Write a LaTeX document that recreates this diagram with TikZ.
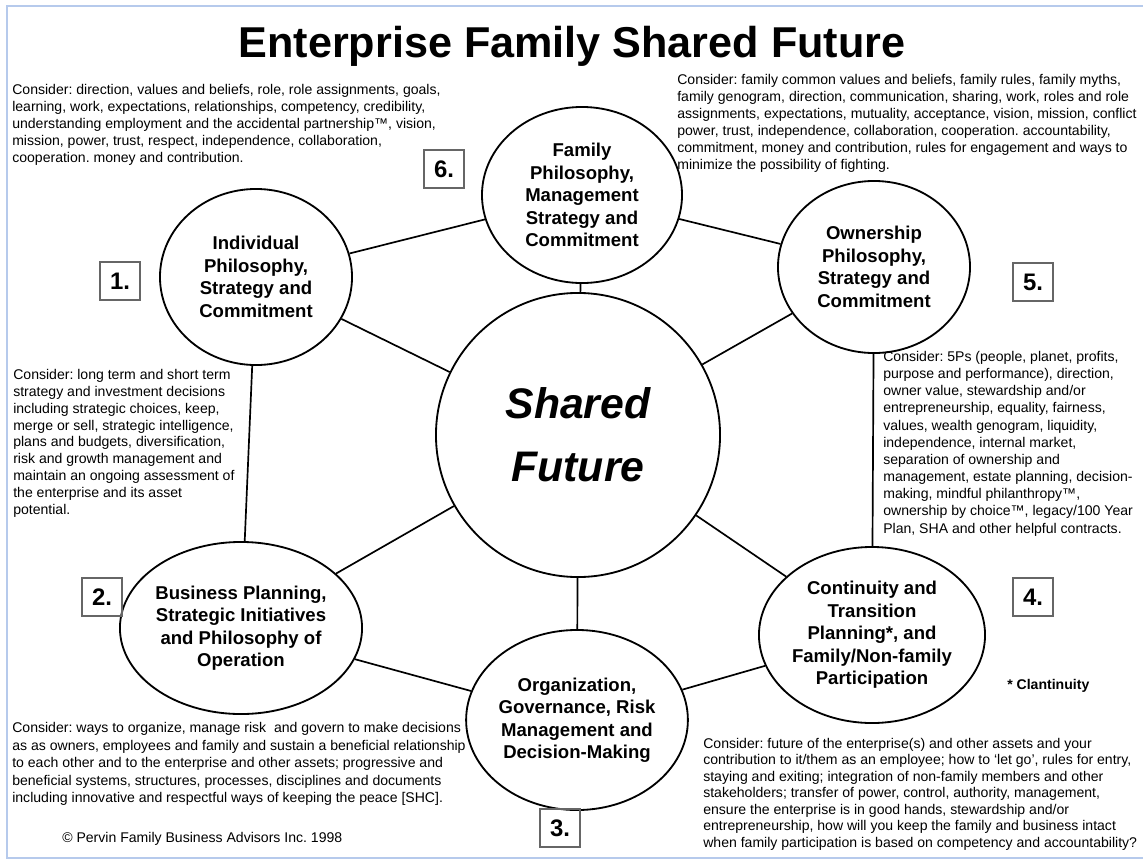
\documentclass[tikz,border=0pt]{standalone}
\usepackage{fontspec}
\setmainfont{Liberation Sans}
\usepackage{tikz}
\usepackage{xcolor}
\usetikzlibrary{shapes.geometric}
\definecolor{framebl}{RGB}{182,202,236}
\frenchspacing
\tikzset{stage/.style={ellipse,draw,line width=1.3pt,inner sep=0pt,align=center,
   font=\fontsize{13.2}{16}\selectfont\bfseries},
 hub/.style={circle,draw,line width=1.3pt,inner sep=0pt,minimum size=7.1cm,align=center,
   font=\fontsize{30.4}{44.7}\selectfont\bfseries\itshape},
 link/.style={draw,line width=1.2pt},
 numbox/.style={draw=gray!80!black,line width=1pt,minimum width=1cm,minimum height=0.95cm,
   inner sep=0pt,font=\fontsize{17}{20}\selectfont\bfseries},
 note/.style={anchor=north west,inner sep=0pt,align=left},
 }

\begin{document}
\begin{tikzpicture}[x=0.025cm,y=-0.025cm]
        \useasboundingbox (0,0) rectangle (1143,861);
        \draw[framebl,line width=2pt] (1143,6) -- (7,6) -- (7,858) -- (1143,858);

        \node[anchor=base,font=\fontsize{30.7}{34}\selectfont\bfseries] (title) at (572,57.5) {Enterprise Family Shared Future};

        \node[hub] (hub) at (578,435) {Shared\\Future};
        \node[stage,minimum width=5cm,minimum height=4.4cm] (c6) at (582,195) {Family\\Philosophy,\\Management\\Strategy and\\Commitment};
        \node[stage,minimum width=4.8cm,minimum height=4.4cm] (c1) at (256,277) {Individual\\Philosophy,\\Strategy and\\Commitment};
        \node[stage,minimum width=4.8cm,minimum height=4.3cm] (c5) at (874,267) {Ownership\\Philosophy,\\Strategy and\\Commitment};
        \node[stage,minimum width=4.95cm,minimum height=4.3cm] (c2) at (241,628) {Business Planning,\\Strategic Initiatives\\and Philosophy of\\Operation};
        \node[stage,minimum width=5.1cm,minimum height=4.5cm] (c3) at (577,720) {Organization,\\Governance, Risk\\Management and\\Decision-Making};
        \node[stage,minimum width=5.1cm,minimum height=4.4cm] (c4) at (872,635) {Continuity and\\Transition\\Planning*, and\\Family/Non-family\\Participation};

        \foreach \a/\b in {c6/c1, c6/c5, c1/c2, c5/c4, c2/c3, c3/c4} {
            \draw[link] (\a) -- (\b);
        }
        \foreach \c in {c1, c2, c3, c4, c5, c6} {
            \draw[link] (hub) -- (\c);
        }

        \foreach \n/\x/\y in {1/120/281, 2/102/597, 3/560/828, 4/1033/597, 5/1033/282, 6/444/169} {
            \node[numbox] (n\n) at (\x,\y) {\n.};
        }

        \node[note,font=\fontsize{10}{12.05}\selectfont] (ind) at (12,84) {Consider: direction, values and beliefs, role, role assignments, goals,\\learning, work, expectations, relationships, competency, credibility,\\understanding employment and the accidental partnership™, vision,\\mission, power, trust, respect, independence, collaboration,\\cooperation. money and contribution.};
        \node[note,font=\fontsize{10}{12.05}\selectfont] (fam) at (677,74) {Consider: family common values and beliefs, family rules, family myths,\\family genogram, direction, communication, sharing, work, roles and role\\assignments, expectations, mutuality, acceptance, vision, mission, conflict\\power, trust, independence, collaboration, cooperation. accountability,\\commitment, money and contribution, rules for engagement and ways to\\minimize the possibility of fighting.};
        \node[note,font=\fontsize{10}{12}\selectfont] (bus) at (13,369) {Consider: long term and short term\\strategy and investment decisions\\including strategic choices, keep,\\merge or sell, strategic intelligence,\\plans and budgets, diversification,\\risk and growth management and\\maintain an ongoing assessment of\\the enterprise and its asset\\potential.};
        \node[note,font=\fontsize{10}{12.2}\selectfont] (own) at (883,351) {Consider: 5Ps (people, planet, profits,\\purpose and performance), direction,\\owner value, stewardship and/or\\entrepreneurship, equality, fairness,\\values, wealth genogram, liquidity,\\independence, internal market,\\separation of ownership and\\management, estate planning, decision-\\making, mindful philanthropy™,\\ownership by choice™, legacy/100 Year\\Plan, SHA and other helpful contracts.};
        \node[note,font=\fontsize{10}{12.5}\selectfont] (org) at (12,722) {Consider: ways to organize, manage risk \ and govern to make decisions\\as as owners, employees and family and sustain a beneficial relationship\\to each other and to the enterprise and other assets; progressive and\\beneficial systems, structures, processes, disciplines and documents\\including innovative and respectful ways of keeping the peace [SHC].};
        \node[note,font=\fontsize{10}{11.7}\selectfont] (cont) at (703,738) {Consider: future of the enterprise(s) and other assets and your\\contribution to it/them as an employee; how to `let go', rules for entry,\\staying and exiting; integration of non-family members and other\\stakeholders; transfer of power, control, authority, management,\\ensure the enterprise is in good hands, stewardship and/or\\entrepreneurship, how will you keep the family and business intact\\when family participation is based on competency and accountability?};

        \node[anchor=base west,inner sep=0pt,font=\fontsize{10}{12}\selectfont\bfseries] (clan) at (1007,689) {* Clantinuity};
        \node[anchor=base west,inner sep=0pt,font=\fontsize{10}{12}\selectfont] (copy) at (62,842) {© Pervin Family Business Advisors Inc. 1998};
    \end{tikzpicture}
\end{document}
